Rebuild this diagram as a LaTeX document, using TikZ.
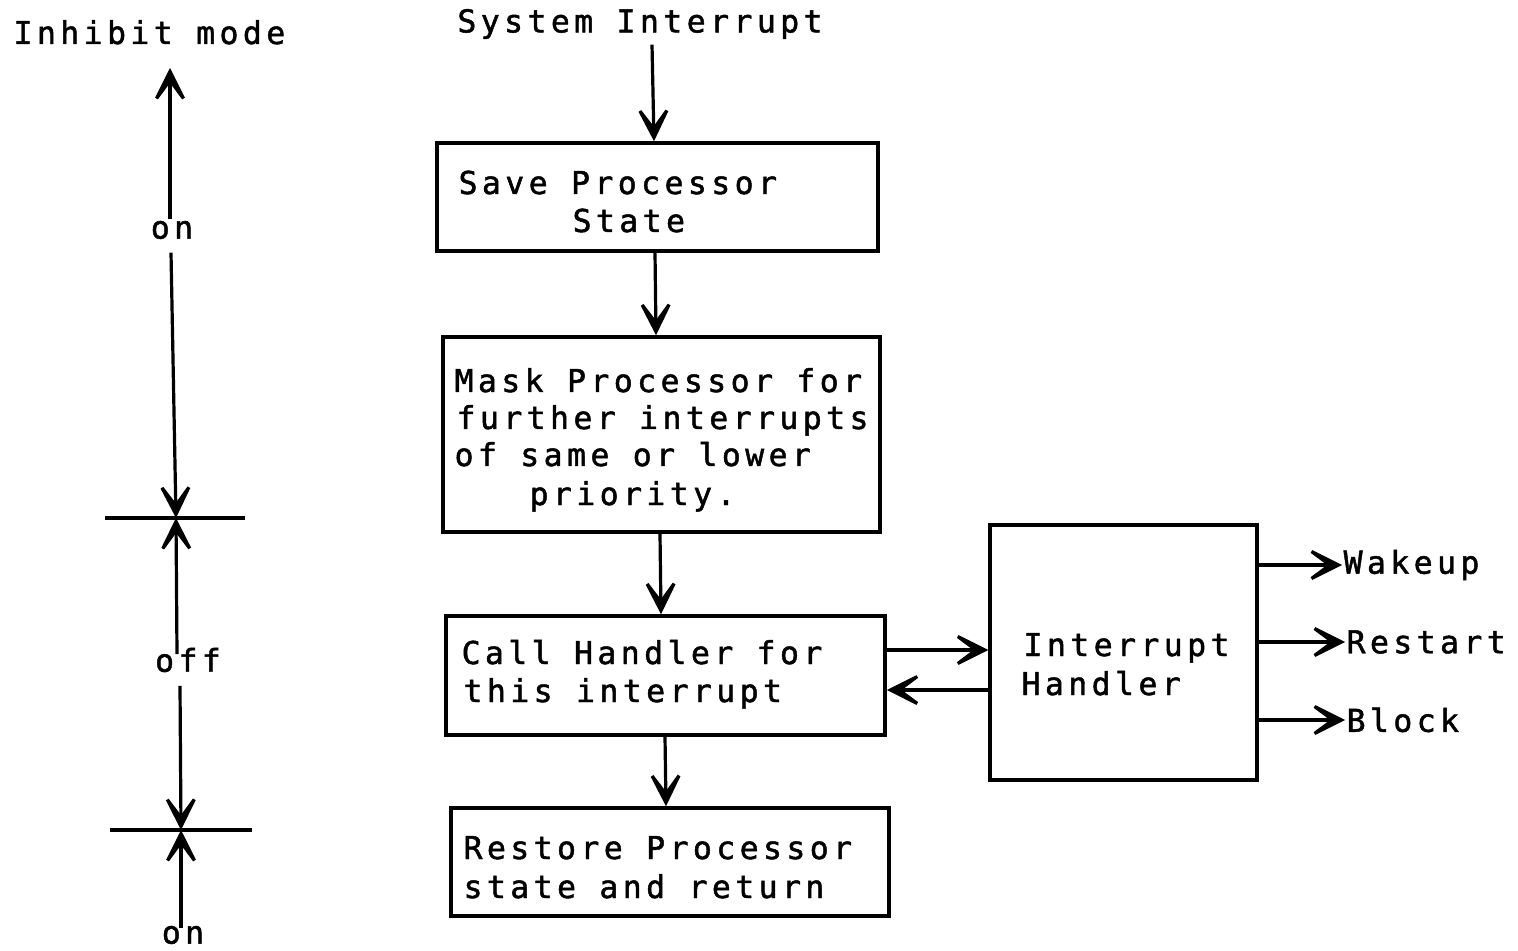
\documentclass[tikz,border=0pt]{standalone}
\usepackage{fontspec}
\usetikzlibrary{arrows.meta}
\newfontfamily\tw{DejaVu Sans Mono}[LetterSpace=14,FakeBold=1.5]
\begin{document}
\begin{tikzpicture}[x=0.5pt,y=-0.5pt,
    line width=1.6pt,
    arr/.style={-{Stealth[length=23pt,width=23pt,inset=15.5pt]}},
    lbl/.style={inner sep=0pt,anchor=base west,font=\tw\fontsize{15.75pt}{18.75pt}\selectfont},
    ctr/.style={inner sep=2pt,font=\tw\fontsize{15.75pt}{18.75pt}\selectfont},
    stepbox/.style={draw,rectangle,inner sep=0pt,line width=1.75pt}]
\useasboundingbox (0,0) rectangle (1518,951);

% boxes of the main flow
\node[stepbox,minimum width=220.5pt,minimum height=54pt]   (save)    at (657.5,197) {};
\node[stepbox,minimum width=218.5pt,minimum height=97.5pt] (mask)    at (661.5,434.5) {};
\node[stepbox,minimum width=219.5pt,minimum height=59.5pt] (call)    at (665.5,675.5) {};
\node[stepbox,minimum width=219pt,minimum height=54pt]     (restore) at (670,862) {};
\node[stepbox,minimum width=133.5pt,minimum height=127.5pt] (ih)     at (1123.5,652.5) {};

% texts
\node[ctr] (sys) at (640,24) {System Interrupt};
\node[lbl] (save1) at (457,194) {Save Processor};
\node[lbl] (save2) at (571,232) {State};
\node[lbl] (mask1) at (453,392) {Mask Processor for};
\node[lbl] (mask2) at (455,429) {further interrupts};
\node[lbl] (mask3) at (453,466) {of same or lower};
\node[lbl] (mask4) at (528,505) {priority.};
\node[lbl] (call1) at (460,664) {Call Handler for};
\node[lbl] (call2) at (462,702) {this interrupt};
\node[lbl] (rest1) at (462,859) {Restore Processor};
\node[lbl] (rest2) at (462,898) {state and return};
\node[lbl] (ih1) at (1022,656) {Interrupt};
\node[lbl] (ih2) at (1020,695) {Handler};
\node[lbl,anchor=west] (wake)    at (1342,565) {Wakeup};
\node[lbl,anchor=west] (restart) at (1345,642) {Restart};
\node[lbl,anchor=west] (block)   at (1345,720) {Block};

% main flow connectors
\draw[arr] ([xshift=6pt]sys.south) -- ([xshift=-1.75pt]save.north);
\draw[arr] ([xshift=-1.25pt]save.south) -- ([xshift=-2.75pt]mask.north);
\draw[arr] ([xshift=-0.75pt]mask.south) -- ([xshift=-2.25pt]call.north);
\draw[arr] ([xshift=-0.25pt]call.south) -- ([xshift=-2pt]restore.north);
\draw[arr] ([yshift=12.75pt]call.east) -- ([yshift=1.25pt]ih.west);
\draw[arr] ([yshift=-18.75pt]ih.west) -- ([yshift=-7.25pt]call.east);
\draw[arr] ([yshift=43.75pt]ih.east) -- (wake.west);
\draw[arr] ([yshift=5.25pt]ih.east) -- (restart.west);
\draw[arr] ([yshift=-33.75pt]ih.east) -- (block.west);

% inhibit mode scale
\node[lbl] (inh) at (12,44) {Inhibit mode};
\node[ctr] (on1) at (172,230) {on};
\node[ctr] (off) at (188,660) {off};
\node[ctr] (on2) at (183,935) {on};
\coordinate (top) at (170,68);
\coordinate (k1) at (176,518);
\coordinate (k2) at (181,830);
\coordinate (k1l) at (105,518);
\coordinate (k1r) at (245,518);
\coordinate (k2l) at (110,830);
\coordinate (k2r) at (252,830);
\draw (k1l) -- (k1r);
\draw (k2l) -- (k2r);
\draw[arr] ([xshift=-1pt,yshift=-2pt]on1.north) -- (top);
\draw[arr] ([xshift=-0.5pt,yshift=-4pt]on1.south) -- (k1);
\draw[arr] ([xshift=-5.5pt,yshift=-6pt]off.north) -- (k1);
\draw[arr] ([xshift=-4pt,yshift=-4pt]off.south) -- (k2);
\draw[arr] ([xshift=-1pt,yshift=-4pt]on2.north) -- (k2);
\end{tikzpicture}
\end{document}
